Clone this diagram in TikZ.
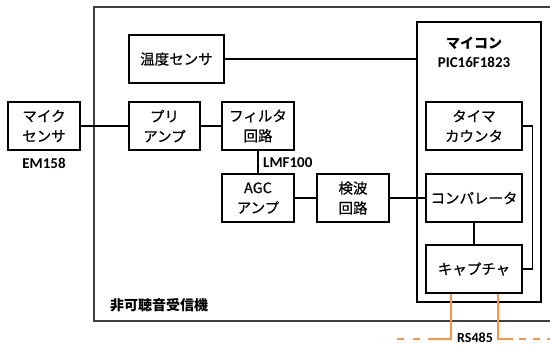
\documentclass[tikz,border=0pt]{standalone}
\usepackage{fontspec}
\setmainfont{Noto Sans CJK JP}
\newfontfamily\boxfont[FakeBold=0.5]{Noto Sans CJK JP}
\newfontfamily\lat{Carlito}
\usetikzlibrary{calc}
\definecolor{rsorange}{HTML}{F79646}
\begin{document}
\begin{tikzpicture}[x=1pt,y=-1pt,
  blk/.style={draw,line width=1.4pt,align=center,inner sep=0pt,minimum height=48pt,
    font=\boxfont\fontsize{14.5}{20}\selectfont},
  wire/.style={line width=1.4pt},
  lbl/.style={font=\lat\bfseries\fontsize{15}{18}\selectfont,inner sep=0pt},
  jlbl/.style={font=\bfseries\fontsize{14}{18}\selectfont,inner sep=0pt},
  rs/.style={draw=rsorange,line width=1.8pt}]
\clip (0,0) rectangle (550,345);
\fill[white] (0,0) rectangle (550,345);
% outer receiver frame (open to the right)
\draw[line width=1.2pt,black!75] (551,7) -- (94,7) -- (94,321) -- (551,321);
% microcontroller
\node[draw,line width=1.4pt,minimum width=124pt,minimum height=280pt,inner sep=0pt] (mc) at (479,162) {};
\node[jlbl] (mctxt) at (474,43) {マイコン};
\node[lbl] (pic) at (474,62) {PIC16F1823};
% blocks
\node[blk,minimum width=72pt] (mic) at (44,126) {マイク\\センサ};
\node[lbl] (em) at (44,163) {EM158};
\node[blk,minimum width=95pt] (temp) at (176.5,59) {温度センサ};
\node[blk,minimum width=71pt] (pre) at (164.5,126) {プリ\\アンプ};
\node[blk,minimum width=72pt] (filt) at (258,126) {フィルタ\\回路};
\node[lbl,anchor=west] (lmf) at (263,163) {LMF100};
\node[blk,minimum width=72pt] (agc) at (258,198) {AGC\\アンプ};
\node[blk,minimum width=72pt] (ken) at (353,198) {検波\\回路};
\node[blk,minimum width=96pt] (tim) at (474,126) {タイマ\\カウンタ};
\node[blk,minimum width=96pt] (comp) at (474,198) {コンパレータ};
\node[blk,minimum width=96pt] (cap) at (474,269) {キャプチャ};
\node[jlbl,anchor=west] (rx) at (110,305) {非可聴音受信機};
% connections
\draw[wire] (mic) -- (pre);
\draw[wire] (pre) -- (filt);
\draw[wire] (filt) -- (agc);
\draw[wire] (agc) -- (ken);
\draw[wire] (ken) -- (comp);
\draw[wire] (temp.east) -- (temp.east -| mc.west);
\draw[wire] (comp) -- (cap);
\draw[wire] (tim.east) -- ++(10,0) |- (cap.east);
% RS485 lines
\coordinate (oa) at ($(cap.south)+(-23,0)$);
\coordinate (ob) at ($(cap.south)+(24,0)$);
\coordinate (ylev) at (0,339);
\coordinate (la) at (428,339);
\coordinate (la2) at (420,339);
\coordinate (la3) at (390,339);
\coordinate (rb) at (513,339);
\coordinate (rb2) at (519,339);
\coordinate (rb3) at (552,339);
\draw[rs] (oa) -- (oa |- ylev) -- (la);
\draw[rs,dash pattern=on 7pt off 9pt] (la2) -- (la3);
\draw[rs] (ob) -- (ob |- ylev) -- (rb);
\draw[rs,dash pattern=on 7pt off 7pt] (rb2) -- (rb3);
\node[lbl,anchor=base,font=\lat\bfseries\fontsize{14}{16}\selectfont] (rs485) at (475,342) {RS485};
\end{tikzpicture}
\end{document}
